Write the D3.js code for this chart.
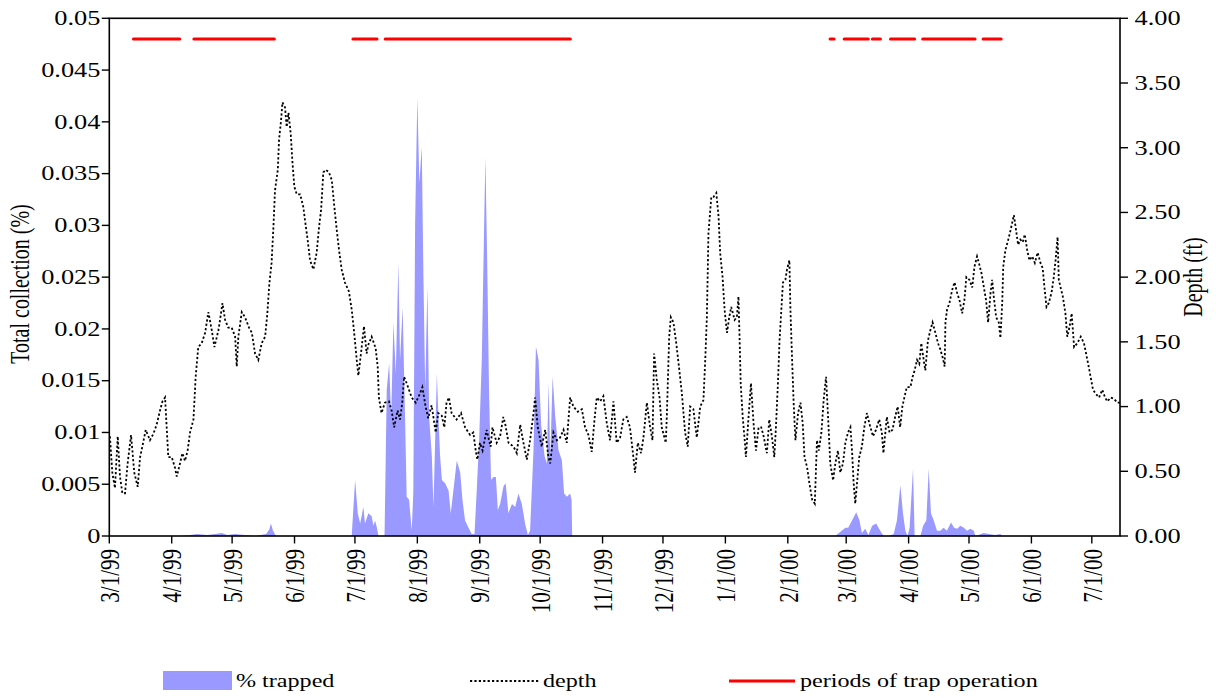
<!DOCTYPE html>
<html><head><meta charset="utf-8">
<script src="https://cdn.jsdelivr.net/npm/d3@7"></script>
<style>body{margin:0;background:#fff}svg{display:block}text{font-family:"Liberation Serif","Times New Roman",serif;fill:#000}</style>
</head><body>
<svg id="chart" width="1216" height="698"></svg>
<script>
// ---------- data ----------
const startDate = "1999-03-01";
const endDate = "2000-07-15";
const tickDates = ["1999-03-01","1999-04-01","1999-05-01","1999-06-01","1999-07-01","1999-08-01","1999-09-01","1999-10-01","1999-11-01","1999-12-01","2000-01-01","2000-02-01","2000-03-01","2000-04-01","2000-05-01","2000-06-01","2000-07-01"];
const leftTicks = [0,0.005,0.01,0.015,0.02,0.025,0.03,0.035,0.04,0.045,0.05];
const leftTickLabels = ["0","0.005","0.01","0.015","0.02","0.025","0.03","0.035","0.04","0.045","0.05"];
const rightTicks = [0,0.5,1,1.5,2,2.5,3,3.5,4];
const legendLabels = ["% trapped","depth","periods of trap operation"];
const leftTitle = "Total collection (%)";
const rightTitle = "Depth (ft)";
const operationLevel = 0.048;
const operationPeriods = [["1999-03-13","1999-04-05"],["1999-04-12","1999-05-22"],["1999-06-30","1999-07-12"],["1999-07-16","1999-10-16"],["2000-02-22","2000-02-24"],["2000-02-29","2000-03-12"],["2000-03-14","2000-03-18"],["2000-03-23","2000-04-04"],["2000-04-08","2000-05-04"],["2000-05-08","2000-05-17"]];
// [days after 3/1/99, % trapped]
const trapped = [[0,0],[35,0],[40,0.0001],[43.6,0.0002],[48.5,0.0001],[52.5,0.0002],[55.9,0.0003],[58.5,0.0001],[62.5,0.0002],[67.4,0.0001],[72.4,0],[77.9,0.0002],[79.4,0.0006],[80.3,0.0012],[81.3,0.0005],[82.8,0],[120.4,0],[120.7,0.0010],[122.1,0.0054],[123.4,0.0022],[124.6,0.0012],[126.2,0.0028],[127,0.0012],[128.7,0.0022],[130.3,0.0019],[131.2,0.0010],[132,0.0015],[132.8,0.0009],[133.7,0],[136.7,0],[137.1,0.0050],[137.8,0.0141],[139,0.0167],[140,0.0114],[141.1,0.0206],[142.3,0.0157],[143.6,0.0264],[144.4,0.0170],[145.7,0.0221],[146.9,0.0114],[147.7,0.0038],[148.9,0.0035],[150.2,0.0005],[151,0.0042],[151.9,0.0302],[153,0.0424],[154,0.0341],[155.2,0.0376],[156,0.0253],[156.9,0.0141],[158,0.0241],[158.9,0.0114],[160.2,0.0077],[161,0.0028],[162.7,0.0157],[163.5,0.0114],[164.3,0.0077],[165.2,0.0054],[166.8,0.0051],[168.5,0.0044],[169.6,0.0022],[170.9,0.0044],[172.6,0.0073],[174.3,0.0061],[175.4,0.0035],[176.7,0.0015],[178.4,0.0008],[180,0.0002],[181.4,0.0002],[182.5,0.0044],[183.7,0.0093],[185,0.0170],[186.2,0.0302],[186.8,0.0366],[187.7,0.0264],[188.6,0.0141],[189.6,0.0054],[190.8,0.0057],[192,0.0057],[193,0.0025],[194.1,0.0031],[195.8,0.0048],[196.9,0.0051],[198.2,0.0022],[200,0.0031],[201.6,0.0028],[203.2,0.0041],[204.9,0.0031],[206.6,0.0011],[207.9,0.0001],[209,0.0005],[210.7,0.0083],[211.9,0.0183],[213.2,0.0170],[214.5,0.0107],[216.2,0.0077],[217.3,0.0070],[218.2,0.0148],[219,0.0075],[220.2,0.0154],[221.5,0.0115],[223.1,0.0083],[224.8,0.0073],[225.9,0.0041],[227.3,0.0038],[228.9,0.0041],[229.6,0.0035],[229.9,0],[360.6,0],[365.6,0.0008],[367,0.0008],[368.9,0.0015],[371,0.0023],[372.6,0.0015],[373.8,0.0003],[375.5,0.0007],[377,0.0001],[378.9,0.0010],[380.9,0.0012],[382.9,0.0005],[384.6,0],[387,0],[389.6,0.0002],[391.2,0.0015],[392.9,0.0049],[394.2,0.0022],[395.4,0.0005],[396.5,0],[397.5,0.0008],[399.2,0.0065],[400,0],[402.9,0],[404.2,0.0010],[405.8,0.0015],[407,0.0065],[408.1,0.0022],[409.5,0.0015],[411.1,0.0005],[412.7,0.0005],[414.4,0.0008],[416,0.0005],[418.1,0.0013],[419.6,0.0008],[421.1,0.0007],[422.7,0.0010],[424.4,0.0008],[426,0.0005],[427.7,0.0007],[429.4,0.0005],[430.2,0],[434.3,0.0003],[436.8,0.0002],[440,0.0001],[442.6,0.0002],[443.4,0],[502,0]];
// [days after 3/1/99, depth ft]
const depth = [[0.3,0.77],[1.5,0.49],[2.8,0.37],[4.2,0.77],[5.3,0.46],[6.5,0.33],[7.8,0.33],[9.1,0.56],[10.8,0.78],[12.4,0.49],[14.1,0.38],[15.3,0.61],[16.4,0.69],[18.1,0.82],[20.2,0.74],[21.9,0.79],[23.5,0.86],[25.2,0.97],[26.4,1.04],[27.7,1.07],[28.5,0.84],[29.3,0.61],[31,0.61],[32.6,0.53],[33.5,0.46],[35.1,0.56],[36.3,0.64],[37.6,0.58],[38.9,0.66],[40.1,0.80],[41.8,0.90],[42.9,1.23],[44.2,1.46],[45.9,1.49],[47.6,1.57],[49.2,1.73],[50.9,1.59],[52.2,1.46],[54.2,1.59],[55,1.67],[56.2,1.80],[57.5,1.67],[59.1,1.61],[60.8,1.61],[62.5,1.54],[63.3,1.31],[64.1,1.54],[65.8,1.73],[67.4,1.69],[69.4,1.61],[70.8,1.57],[72.4,1.41],[74,1.36],[75.7,1.49],[77.4,1.54],[78.5,1.72],[79.5,1.95],[80.6,2.11],[81.5,2.38],[82.3,2.67],[83.7,2.83],[84.3,3.06],[85.3,3.21],[86,3.35],[87.3,3.31],[88.1,3.16],[89,3.27],[90.1,3.11],[91,2.88],[91.9,2.70],[93.1,2.64],[94.8,2.64],[96.4,2.54],[97.2,2.44],[98.5,2.29],[99.7,2.13],[101.4,2.06],[103,2.19],[104.2,2.39],[105.2,2.52],[106.3,2.81],[107.5,2.83],[109.1,2.81],[110.5,2.75],[111.8,2.54],[113,2.36],[114.1,2.21],[115.4,2.06],[117,1.96],[119,1.89],[120.4,1.75],[121.5,1.59],[122.9,1.36],[123.7,1.24],[125,1.41],[126.5,1.62],[127.8,1.41],[128.7,1.48],[130.3,1.54],[132.3,1.45],[133.3,1.31],[133.9,1.07],[135.2,0.95],[136.9,1.03],[138.9,1.04],[140.2,0.97],[141.5,0.84],[143.2,0.97],[144.4,0.90],[145.5,1.03],[146.4,1.23],[147.7,1.18],[150.2,1.07],[152.2,1.03],[154.3,1.10],[155.5,1.15],[157.1,1.00],[158.4,0.91],[160.1,1.01],[162.1,0.80],[163.4,0.95],[165.1,0.93],[166.4,0.84],[167.5,1.03],[168.7,1.07],[170,0.95],[172.5,0.90],[174.7,0.95],[176.7,0.84],[179.2,0.78],[180.8,0.80],[182,0.66],[182.8,0.59],[184.1,0.72],[185.4,0.66],[187.4,0.82],[189.4,0.69],[190.3,0.84],[192.4,0.72],[194.1,0.77],[195.7,0.92],[196.6,0.87],[198.3,0.72],[200.8,0.69],[202.4,0.64],[204.1,0.86],[205.7,0.72],[207.4,0.59],[209,0.74],[210.7,0.95],[211.5,1.07],[212.8,0.84],[214.8,0.69],[216.5,0.82],[218.1,0.61],[219,0.56],[220.6,0.80],[222.3,0.74],[223.9,0.76],[225.6,0.82],[227.2,0.72],[228.9,1.07],[230.5,1.00],[232.7,0.96],[234.7,0.98],[236.3,0.84],[238,0.78],[239.6,0.65],[241,0.90],[242.1,1.07],[243.8,1.04],[245.4,1.08],[247.1,0.87],[248.7,0.74],[250.4,1.04],[252,0.72],[253.7,0.76],[255.3,0.90],[257,0.92],[258.6,0.84],[260.3,0.61],[261.1,0.49],[262.5,0.72],[264.1,0.64],[265.3,0.76],[267,1.03],[268.6,0.84],[269.8,0.74],[270.6,1.41],[271.9,1.21],[273.3,1.07],[274.4,0.84],[276.4,0.72],[276.9,0.92],[278.1,1.54],[278.9,1.69],[280.2,1.65],[281.6,1.49],[282.7,1.34],[284.4,1.10],[286,0.80],[287.3,0.69],[288.5,1.00],[290.1,0.98],[291.8,0.76],[293.5,1.00],[295.1,1.05],[296,1.36],[296.8,1.69],[297.6,2.34],[299,2.62],[300.1,2.62],[301.5,2.65],[302.6,2.47],[303.4,2.19],[304.6,2.00],[305.6,1.75],[306.8,1.57],[307.9,1.69],[308.9,1.77],[310.6,1.67],[311.7,1.69],[312.5,1.85],[313.2,1.44],[313.6,1.18],[314.6,0.92],[315.6,0.74],[316.2,0.61],[317.5,0.92],[318.7,1.18],[320,0.87],[321.2,0.66],[322.5,0.84],[323.8,0.84],[325,0.77],[326.6,0.64],[327.8,0.90],[329.1,0.77],[330.3,0.61],[331.1,0.84],[332.1,1.18],[332.9,1.51],[333.8,1.75],[334.6,1.96],[335.8,1.98],[336.6,2.06],[337.8,2.13],[338.3,1.75],[339.1,1.38],[339.9,1.03],[340.8,0.74],[342.1,0.95],[343.3,1.03],[344.4,0.87],[345.3,0.61],[346.6,0.53],[347.7,0.41],[349.1,0.28],[350.4,0.25],[351.5,0.74],[352.4,0.66],[353.7,0.80],[354.8,1.05],[356,1.23],[357,0.92],[358.1,0.56],[359.5,0.43],[360.6,0.56],[361.9,0.66],[363.1,0.49],[364.4,0.56],[365.6,0.72],[366.9,0.80],[368.1,0.84],[368.9,0.66],[369.7,0.41],[370.5,0.25],[371.5,0.43],[372.5,0.61],[373.8,0.69],[375,0.84],[376.3,0.95],[377.5,0.87],[379.3,0.77],[380.8,0.82],[382.4,0.90],[383.7,0.80],[384.5,0.64],[386.2,0.92],[387.5,0.80],[389,0.82],[390.3,0.92],[391.6,1.00],[392.8,0.84],[393.9,1.00],[394.9,1.07],[396.1,1.15],[397.9,1.15],[399,1.23],[400,1.28],[401.2,1.36],[402.3,1.33],[403.3,1.49],[404.5,1.36],[405.3,1.28],[406.6,1.51],[407.8,1.59],[408.9,1.65],[410.3,1.57],[411.6,1.49],[412.8,1.44],[413.9,1.38],[414.9,1.31],[415.3,1.65],[416.1,1.75],[417.3,1.80],[418.6,1.90],[419.8,1.96],[421.1,1.88],[422.3,1.82],[423.6,1.72],[424.7,1.82],[425.7,2.00],[427.2,1.98],[428.6,1.92],[429.7,2.08],[431,2.16],[431.9,2.11],[433.2,2.03],[434.4,1.92],[435.5,1.82],[436.5,1.65],[437.7,1.88],[438.5,1.98],[439.3,1.85],[440.5,1.69],[441.8,1.65],[442.6,1.53],[443.5,1.80],[444,2.08],[445.1,2.21],[446.5,2.29],[447.6,2.36],[449.3,2.48],[450.4,2.36],[451.4,2.25],[452.5,2.29],[453.7,2.27],[454.7,2.33],[455.9,2.21],[457,2.13],[458.4,2.16],[459.7,2.11],[461.1,2.19],[462.5,2.11],[463.6,2.07],[464.6,1.90],[465.5,1.77],[466.6,1.80],[468,1.88],[469.1,2.00],[470,2.13],[471,2.31],[471.6,1.98],[472.5,1.92],[473.6,1.85],[474.9,1.72],[475.8,1.54],[477,1.62],[478,1.72],[479.2,1.46],[480.8,1.49],[482.5,1.54],[484.1,1.49],[485.8,1.36],[487.4,1.23],[488.6,1.13],[489.9,1.10],[491.6,1.07],[493.2,1.13],[494.6,1.07],[495.7,1.04],[497.4,1.07],[499,1.06],[500.7,1.03],[502,1.03]];

// ---------- drawing ----------
const parse = d3.timeParse("%Y-%m-%d");
const t0 = parse(startDate);
const dayToDate = d => new Date(t0.getTime() + d * 864e5);
const svg = d3.select("#chart");
const L = 109.3, R = 1120, T = 18.3, B = 536;
const SX = 1.32; // horizontal glyph stretch of the original picture

const x = d3.scaleTime().domain([t0, parse(endDate)]).range([L, R]);
const yL = d3.scaleLinear().domain([0, 0.05]).range([B, T]);
const yR = d3.scaleLinear().domain([0, 4]).range([B, T]);

// area: % trapped
svg.append("path")
  .datum(trapped)
  .attr("fill", "#9999ff")
  .attr("d", d3.area().x(d => x(dayToDate(d[0]))).y0(yL(0)).y1(d => yL(d[1]))(trapped));

// depth line
svg.append("path")
  .attr("fill", "none").attr("stroke", "#000").attr("stroke-width", 1.8)
  .attr("stroke-dasharray", "2.2,2.2")
  .attr("d", d3.line().x(d => x(dayToDate(d[0]))).y(d => yR(d[1]))(depth));

// periods of trap operation
svg.append("g").selectAll("line").data(operationPeriods).join("line")
  .attr("x1", d => x(parse(d[0]))).attr("x2", d => x(parse(d[1])))
  .attr("y1", yL(operationLevel)).attr("y2", yL(operationLevel))
  .attr("stroke", "#ff0000").attr("stroke-width", 3).attr("stroke-linecap", "round");

// frame
svg.append("rect").attr("x", L).attr("y", T).attr("width", R - L).attr("height", B - T)
  .attr("fill", "none").attr("stroke", "#000").attr("stroke-width", 1.6);

// left axis
const gl = svg.append("g");
gl.selectAll("line").data(leftTicks).join("line")
  .attr("x1", L - 7.5).attr("x2", L).attr("y1", d => yL(d)).attr("y2", d => yL(d))
  .attr("stroke", "#000").attr("stroke-width", 1.4);
gl.selectAll("text").data(leftTicks).join("text")
  .attr("transform", d => `translate(100.5,${yL(d)}) scale(${SX},1)`)
  .attr("text-anchor", "end").attr("dy", "0.34em").attr("font-size", 20)
  .text((d, i) => leftTickLabels[i]);

// right axis
const gr = svg.append("g");
const fmtR = d3.format(".2f");
gr.selectAll("line").data(rightTicks).join("line")
  .attr("x1", R).attr("x2", R + 8).attr("y1", d => yR(d)).attr("y2", d => yR(d))
  .attr("stroke", "#000").attr("stroke-width", 1.4);
gr.selectAll("text").data(rightTicks).join("text")
  .attr("transform", d => `translate(1134.5,${yR(d)}) scale(${SX},1)`)
  .attr("text-anchor", "start").attr("dy", "0.34em").attr("font-size", 20)
  .text(d => fmtR(d));

// bottom axis
const gb = svg.append("g");
const fmtX = d3.timeFormat("%-m/%-d/%y");
const tDates = tickDates.map(parse);
gb.selectAll("line").data(tDates).join("line")
  .attr("x1", d => x(d)).attr("x2", d => x(d)).attr("y1", B).attr("y2", B + 7.5)
  .attr("stroke", "#000").attr("stroke-width", 1.4);
gb.selectAll("text").data(tDates).join("text")
  .attr("transform", d => `translate(${x(d)},549) scale(${SX},1) rotate(-90)`)
  .attr("text-anchor", "end").attr("dy", "0.35em").attr("font-size", 21)
  .text(d => fmtX(d));

// axis titles
svg.append("text").attr("transform", `translate(28.5,284) scale(${SX},1) rotate(-90)`)
  .attr("text-anchor", "middle").attr("font-size", 20).text(leftTitle);
svg.append("text").attr("transform", `translate(1202,277) scale(${SX},1) rotate(-90)`)
  .attr("text-anchor", "middle").attr("font-size", 20).text(rightTitle);

// legend
const lg = svg.append("g");
lg.append("rect").attr("x", 163).attr("y", 671).attr("width", 69).attr("height", 19).attr("fill", "#9999ff");
lg.append("line").attr("x1", 470).attr("x2", 540).attr("y1", 681).attr("y2", 681)
  .attr("stroke", "#000").attr("stroke-width", 1.8).attr("stroke-dasharray", "2.2,2.2");
lg.append("line").attr("x1", 729).attr("x2", 795).attr("y1", 681).attr("y2", 681)
  .attr("stroke", "#ff0000").attr("stroke-width", 3);
const legX = [236, 543, 800];
lg.selectAll("text").data(legendLabels).join("text")
  .attr("transform", (d, i) => `translate(${legX[i]},687) scale(1.27,1)`)
  .attr("font-size", 19).text(d => d);
</script>
</body></html>
